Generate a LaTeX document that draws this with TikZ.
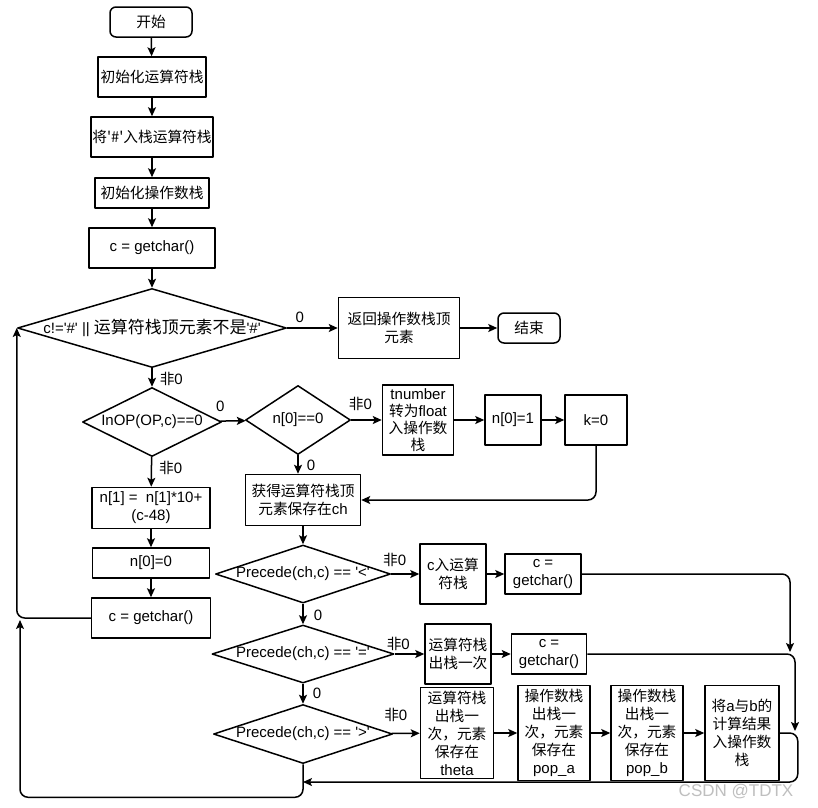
\documentclass[tikz,border=0pt]{standalone}
\usepackage{fontspec}
\setmainfont{Liberation Sans}[Ligatures=TeXOff]
\newfontfamily\cjk{Noto Sans CJK SC}[Scale=0.98]
\newcommand{\zh}[1]{{\cjk #1}}
\usetikzlibrary{arrows.meta,shapes.geometric}
\begin{document}
\begin{tikzpicture}[x=1pt, y=-1pt, line join=round, line width=1.5pt,
	>={Stealth[length=9pt,width=8pt,inset=2pt]},
	every node/.style={font=\fontsize{15}{18}\selectfont, align=center, inner sep=1pt},
	box/.style 2 args={draw, minimum width=#1pt, minimum height=#2pt},
	term/.style 2 args={box={#1}{#2}, rounded corners=6pt},
	dec/.style n args={3}{diamond, draw, inner sep=0pt, minimum width=#1pt, minimum height=#2pt, label={center:#3}},
	lbl/.style={inner sep=2pt}]
	%% khung
	\path[use as bounding box, fill=white] (0,0) rectangle (818,807);
	%% cot ben trai
	\node[term={82}{30}] (start) at (151,22) {\zh{开始}};
	\node[box={108}{40}] (initop) at (152,77) {\zh{初始化运算符栈}};
	\node[box={122}{40}] (pushsharp) at (152,137) {\zh{将'\#'入栈运算符栈}};
	\node[box={114}{30}] (initnum) at (152,193) {\zh{初始化操作数栈}};
	\node[box={126}{40}] (getc) at (152,248) {c = getchar()};
	\node[dec={269}{79}{c!='\#' || {\fontsize{17.3}{18}\selectfont\cjk 运算符栈顶元素不是}'\#'}] (loop) at (152,328) {};
	\node[box={121}{61}] (ret) at (399,328) {\zh{返回操作数栈顶}\\\zh{元素}};
	\node[term={62}{30}] (stop) at (529,328) {\zh{结束}};
	\node[dec={139}{69}{InOP(OP,c)==0}] (inop) at (152,422) {};
	\node[box={118}{41}] (n1) at (151,508) {n[1] =\ \ n[1]*10+\\(c-48)};
	\node[box={117}{30}] (n0z) at (151,563) {n[0]=0};
	\node[box={119}{40}] (gcL) at (151,618) {c = getchar()};
	%% nhanh so
	\node[dec={105}{69}{n[0]==0}] (nchk) at (298,420) {};
	\node[box={71}{70}, font=\fontsize{15}{17}\selectfont] (tnum) at (418,420) {tnumber\\\zh{转为}float\\\zh{入操作数}\\\zh{栈}};
	\node[box={56}{50}] (nset) at (513,420) {n[0]=1};
	\node[box={62}{50}] (kset) at (596,420) {k=0};
	\node[box={115}{51}] (getop) at (303,500) {\zh{获得运算符栈顶}\\\zh{元素保存在}ch};
	%% so sanh uu tien
	\node[dec={175}{58}{Precede(ch,c) == '<'}] (lt) at (303,574) {};
	\node[box={66}{60}] (cpush) at (453,574) {c\zh{入运算}\\\zh{符栈}};
	\node[box={76}{40}] (gc1) at (543,574) {c =\\getchar()};
	\node[dec={182}{58}{Precede(ch,c) == '='}] (eq) at (303,654) {};
	\node[box={66}{60}] (pop1) at (458,654) {\zh{运算符栈}\\\zh{出栈一次}};
	\node[box={75}{40}] (gc2) at (549,654) {c =\\getchar()};
	\node[dec={179}{59}{Precede(ch,c) == '>'}] (gt) at (303,734) {};
	\node[box={73}{91}] (theta) at (457,733) {\zh{运算符栈}\\\zh{出栈一}\\\zh{次，元素}\\\zh{保存在}\\theta};
	\node[box={72}{95}] (popa) at (554,733) {\zh{操作数栈}\\\zh{出栈一}\\\zh{次，元素}\\\zh{保存在}\\pop\_a};
	\node[box={72}{95}] (popb) at (647,733) {\zh{操作数栈}\\\zh{出栈一}\\\zh{次，元素}\\\zh{保存在}\\pop\_b};
	\node[box={74}{95}] (calc) at (742,733) {\zh{将}a\zh{与}b\zh{的}\\\zh{计算结果}\\\zh{入操作数}\\\zh{栈}};
	\node[text=gray!50, font=\fontsize{17}{17}\selectfont] (mark) at (736,791) {CSDN @TDTX};
	%% diem noi
	\coordinate (j1) at (790,652);
	\coordinate (j2) at (795,731);
	\coordinate (back) at (303,782);
	\coordinate (loopin) at (20,620);
	%% mui ten
	\draw[->] (start) -- (initop);
	\draw[->] (initop) -- (pushsharp);
	\draw[->] (pushsharp) -- (initnum);
	\draw[->] (initnum) -- (getc);
	\draw[->] (getc) -- (loop);
	\draw[->] (loop) -- node[lbl, pos=.25, above=3pt]{0} (ret);
	\draw[->] (ret) -- (stop);
	\draw[->] (loop) -- node[lbl, pos=.57, right=5pt]{\zh{非}0} (inop);
	\draw[->] (inop) -- node[lbl, pos=0, above=7pt]{0} (nchk);
	\draw[->] (inop) -- node[lbl, pos=.37, right=5pt]{\zh{非}0} (n1);
	\draw[->] (n1) -- (n0z);
	\draw[->] (n0z) -- (gcL);
	\draw[->, rounded corners=8pt] (gcL) -| (loop.west);
	\draw[->] (nchk) -- node[lbl, pos=.3, above=7pt]{\zh{非}0} (tnum);
	\draw[->] (tnum) -- (nset);
	\draw[->] (nset) -- (kset);
	\draw[->] (nchk.south) -- node[lbl, pos=.57, right=6pt]{0} (nchk.south |- getop.north);
	\draw[->, rounded corners=8pt] (kset) |- (getop);
	\draw[->] (getop) -- (lt);
	\draw[->] (lt) -- node[lbl, pos=.12, above=5pt]{\zh{非}0} (cpush);
	\draw[->] (cpush) -- (gc1);
	\draw[->] (lt) -- node[lbl, pos=.55, right=8pt]{0} (eq);
	\draw[->] (eq) -- node[lbl, pos=.12, above=1pt]{\zh{非}0} (pop1);
	\draw[->] (pop1) -- (gc2);
	\draw[->] (eq) -- node[lbl, pos=.5, right=7pt]{0} (gt);
	\draw[->] (gt) -- node[lbl, pos=.15, above=9pt]{\zh{非}0} (theta);
	\draw[->] (theta) -- (popa);
	\draw[->] (popa) -- (popb);
	\draw[->] (popb) -- (calc);
	\draw[->, rounded corners=8pt] (gc1) -| (j1);
	\draw[->, rounded corners=8pt] (gc2) -| (j2);
	\draw[->, rounded corners=8pt] (calc.east) -- ++(18,0) |- (back);
	\draw[->, rounded corners=8pt] (gt.south) -- ++(0,33) -| (loopin);
\end{tikzpicture}
\end{document}
